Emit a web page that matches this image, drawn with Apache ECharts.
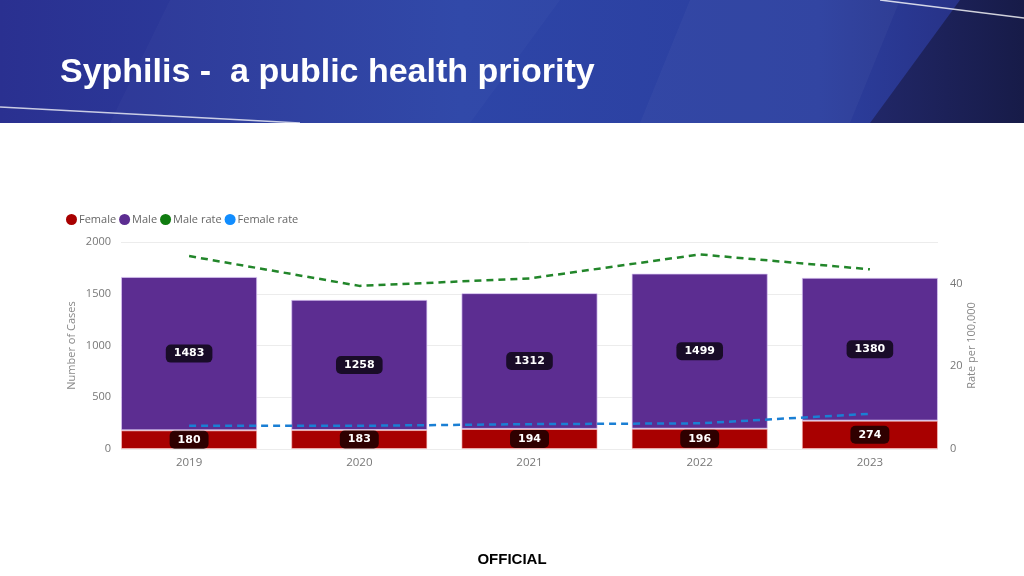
<!DOCTYPE html>
<html>
<head>
<meta charset="utf-8">
<script src="https://cdn.jsdelivr.net/npm/echarts@6/dist/echarts.min.js"></script>
<style>
  html, body { margin: 0; padding: 0; background: #fff; }
  #main { width: 1024px; height: 576px; }
</style>
</head>
<body>
<div id="main"></div>
<script>
// chart data
const years = ['2019', '2020', '2021', '2022', '2023'];
const femaleCases = [180, 183, 194, 196, 274];
const maleCases = [1483, 1258, 1312, 1499, 1380];
const maleRate = [46.6, 39.4, 41.2, 47.0, 43.4];
const femaleRate = [5.6, 5.6, 6.0, 6.2, 8.5];
const casesMax = 2000, casesStep = 500;
const rateMax = 50, rateStep = 20;

const myChart = echarts.init(document.getElementById('main'));

const axisFont = { color: '#777', fontSize: 11, fontFamily: 'Open Sans' };
const badge = {
  show: true,
  position: 'inside',
  color: '#fff',
  fontSize: 11,
  fontWeight: 'bold',
  fontFamily: 'DejaVu Sans',
  backgroundColor: 'rgba(0,0,0,0.72)',
  borderRadius: 5,
  padding: [4, 8, 3, 8]
};

const option = {
  animation: false,
  backgroundColor: '#fff',
  graphic: [
    {
      type: 'rect', silent: true, z: 0,
      shape: { x: 0, y: 0, width: 1024, height: 123 },
      style: {
        fill: new echarts.graphic.LinearGradient(0, 0, 1, 0, [
          { offset: 0, color: '#2a3090' },
          { offset: 0.45, color: '#2d45a7' },
          { offset: 0.8, color: '#2c3f9f' },
          { offset: 1, color: '#252c7c' }
        ])
      }
    },
    {
      type: 'polygon', silent: true, z: 0,
      shape: { points: [[170, 0], [560, 0], [470, 123], [110, 123]] },
      style: { fill: 'rgba(255,255,255,0.025)' }
    },
    {
      type: 'polygon', silent: true, z: 0,
      shape: { points: [[690, 0], [900, 0], [850, 123], [640, 123]] },
      style: { fill: 'rgba(255,255,255,0.03)' }
    },
    {
      type: 'polygon', silent: true, z: 0,
      shape: { points: [[960, 0], [1024, 0], [1024, 123], [870, 123]] },
      style: {
        fill: new echarts.graphic.LinearGradient(0, 0, 1, 0, [
          { offset: 0, color: '#212768' },
          { offset: 1, color: '#171b48' }
        ])
      }
    },
    {
      type: 'line', silent: true, z: 1,
      shape: { x1: 880, y1: 0, x2: 1024, y2: 18 },
      style: { stroke: 'rgba(255,255,255,0.8)', lineWidth: 1.5 }
    },
    {
      type: 'line', silent: true, z: 1,
      shape: { x1: 0, y1: 107, x2: 300, y2: 123 },
      style: { stroke: 'rgba(255,255,255,0.75)', lineWidth: 1.5 }
    },
    {
      type: 'text', silent: true, z: 2,
      left: 'center', top: 552,
      style: { text: 'OFFICIAL', fill: '#000', fontSize: 15, fontWeight: 'bold', fontFamily: 'Liberation Sans' }
    }
  ],
  title: {
    text: 'Syphilis -  a public health priority',
    left: 60,
    top: 56,
    padding: 0,
    textStyle: { color: '#fff', fontSize: 34, fontWeight: 'bold', fontFamily: 'Liberation Sans' }
  },
  legend: {
    left: 66,
    top: 214,
    icon: 'circle',
    itemWidth: 11,
    itemHeight: 11,
    itemGap: 3,
    padding: 0,
    itemStyle: { borderWidth: 0 },
    textStyle: { color: '#666', fontSize: 11, fontFamily: 'Open Sans', padding: [0, 0, 0, -3] },
    data: ['Female', 'Male', 'Male rate', 'Female rate']
  },
  grid: [
    // grid for the marks
    { left: 104, right: 69, top: 242, bottom: 127 },
    // grid for the visible value axes and split lines
    { left: 121, right: 86, top: 242, bottom: 127 }
  ],
  xAxis: [
    {
      type: 'category',
      gridIndex: 0,
      data: years,
      axisLine: { show: false },
      axisTick: { show: false },
      axisLabel: Object.assign({ margin: 8 }, axisFont, { fontSize: 11.5 })
    },
    { type: 'value', gridIndex: 1, show: false, min: 0, max: 1 }
  ],
  yAxis: [
    { type: 'value', gridIndex: 0, min: 0, max: casesMax, interval: casesStep, show: false },
    { type: 'value', gridIndex: 0, min: 0, max: rateMax, interval: rateStep, show: false },
    {
      type: 'value', gridIndex: 1, position: 'left',
      min: 0, max: casesMax, interval: casesStep,
      name: 'Number of Cases', nameLocation: 'middle', nameGap: 44,
      nameMoveOverlap: false,
      nameTextStyle: { color: '#888', fontSize: 11, fontFamily: 'Open Sans' },
      axisLine: { show: false },
      axisTick: { show: false },
      axisLabel: Object.assign({ margin: 10, formatter: v => String(v) }, axisFont),
      splitLine: { lineStyle: { color: '#ececec' } }
    },
    {
      type: 'value', gridIndex: 1, position: 'right',
      min: 0, max: rateMax, interval: rateStep,
      name: 'Rate per 100,000', nameLocation: 'middle', nameGap: 28,
      nameMoveOverlap: false,
      nameTextStyle: { color: '#888', fontSize: 11, fontFamily: 'Open Sans' },
      axisLine: { show: false },
      axisTick: { show: false },
      axisLabel: Object.assign({ margin: 12, showMaxLabel: false }, axisFont),
      splitLine: { show: false }
    }
  ],
  series: [
    {
      name: 'Female',
      type: 'bar',
      stack: 'cases',
      xAxisIndex: 0, yAxisIndex: 0,
      barCategoryGap: '20%',
      itemStyle: { color: '#a80000', borderColor: 'rgba(255,200,200,0.6)', borderWidth: 1 },
      label: badge,
      data: femaleCases
    },
    {
      name: 'Male',
      type: 'bar',
      stack: 'cases',
      xAxisIndex: 0, yAxisIndex: 0,
      barCategoryGap: '20%',
      itemStyle: { color: '#5c2d91', borderColor: 'rgba(220,200,245,0.7)', borderWidth: 1 },
      label: badge,
      data: maleCases
    },
    {
      name: 'Male rate',
      type: 'line',
      xAxisIndex: 0, yAxisIndex: 1,
      symbol: 'none',
      itemStyle: { color: '#107c10' },
      lineStyle: { color: '#22862a', width: 2.5, type: [7, 5] },
      data: maleRate
    },
    {
      name: 'Female rate',
      type: 'line',
      xAxisIndex: 0, yAxisIndex: 1,
      symbol: 'none',
      itemStyle: { color: '#118dff' },
      lineStyle: { color: '#1a7fd4', width: 2.5, type: [7, 5] },
      data: femaleRate
    }
  ]
};

myChart.setOption(option);
</script>
</body>
</html>
